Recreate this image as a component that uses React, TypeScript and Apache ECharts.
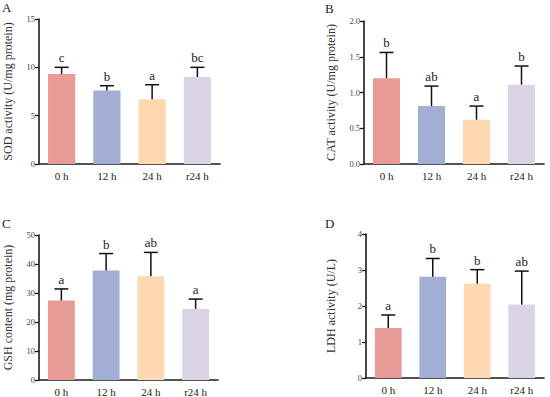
import React, { useEffect, useRef } from "react";
import * as echarts from "echarts";

const categories = ["0 h", "12 h", "24 h", "r24 h"];
const colors = ["#E89A96", "#A2AED3", "#FDD8B1", "#DAD3E6"];

const sodMean = [9.3, 7.6, 6.7, 9.0];
const sodSd = [0.7, 0.5, 1.5, 1.0];
const sodLetters = ["c", "b", "a", "bc"];

const catMean = [1.2, 0.81, 0.62, 1.11];
const catSd = [0.36, 0.28, 0.19, 0.26];
const catLetters = ["b", "ab", "a", "b"];

const gshMean = [27.4, 37.8, 35.8, 24.5];
const gshSd = [4.0, 5.8, 8.2, 3.4];
const gshLetters = ["a", "b", "ab", "a"];

const ldhMean = [1.39, 2.81, 2.62, 2.04];
const ldhSd = [0.36, 0.51, 0.39, 0.93];
const ldhLetters = ["a", "b", "b", "ab"];

const FONT = "Liberation Serif";

const panels = [
  { label: "A", name: "SOD activity (U/mg protein)", mean: sodMean, sd: sodSd, letters: sodLetters, max: 15, interval: 5, dec: 0,
    grid: { left: 39, top: 19, width: 181, height: 145 }, nameGap: 25, lx: 2, ly: 1 },
  { label: "B", name: "CAT activity (U/mg protein)", mean: catMean, sd: catSd, letters: catLetters, max: 2, interval: 0.5, dec: 1,
    grid: { left: 364, top: 21, width: 180, height: 143 }, nameGap: 27, lx: 325, ly: 2 },
  { label: "C", name: "GSH content (mg protein)", mean: gshMean, sd: gshSd, letters: gshLetters, max: 50, interval: 10, dec: 0,
    grid: { left: 39, top: 235, width: 179, height: 145 }, nameGap: 25, lx: 2, ly: 217 },
  { label: "D", name: "LDH activity (U/L)", mean: ldhMean, sd: ldhSd, letters: ldhLetters, max: 4, interval: 1, dec: 0,
    grid: { left: 366, top: 234, width: 178, height: 144 }, nameGap: 29, lx: 325, ly: 217 },
];

export default function App() {
  const ref = useRef<HTMLDivElement>(null);
  useEffect(() => {
    if (!ref.current) return;
    const chart = echarts.init(ref.current, undefined, { renderer: "svg" });
    const grids: any[] = [];
    const xAxes: any[] = [];
    const yAxes: any[] = [];
    const series: any[] = [];
    const graphics: any[] = [];
    panels.forEach((p, i) => {
      grids.push({ ...p.grid, containLabel: false });
      xAxes.push({
        type: "category",
        gridIndex: i,
        data: categories,
        axisLine: { lineStyle: { color: "#1a1a1a", width: 1.6 } },
        axisTick: { alignWithLabel: true, length: 4, lineStyle: { color: "#1a1a1a", width: 1.3 } },
        axisLabel: { fontFamily: FONT, fontSize: 11, color: "#222", margin: 6 },
      });
      yAxes.push({
        type: "value",
        gridIndex: i,
        min: 0,
        max: p.max,
        interval: p.interval,
        name: p.name,
        nameLocation: "middle",
        nameRotate: 90,
        nameGap: p.nameGap,
        nameTextStyle: { fontFamily: FONT, fontSize: 12, color: "#333" },
        splitLine: { show: false },
        axisLine: { show: true, lineStyle: { color: "#1a1a1a", width: 1.6 } },
        axisTick: { show: true, length: 4, lineStyle: { color: "#1a1a1a", width: 1.3 } },
        axisLabel: {
          fontFamily: FONT, fontSize: 8.5, color: "#444", margin: 4,
          formatter: (v: number) => v.toFixed(p.dec),
        },
      });
      series.push({
        type: "bar",
        xAxisIndex: i,
        yAxisIndex: i,
        barWidth: "60%",
        data: p.mean.map((v, k) => ({ value: v, itemStyle: { color: colors[k] } })),
        z: 2,
      });
      series.push({
        type: "custom",
        xAxisIndex: i,
        yAxisIndex: i,
        z: 3,
        data: p.mean.map((v, k) => [k, v, v + p.sd[k], p.letters[k]]),
        renderItem: (params: any, api: any) => {
          const k = api.value(0);
          const base = api.coord([k, api.value(1)]);
          const top = api.coord([k, api.value(2)]);
          const letter = p.letters[params.dataIndex];
          const half = 7;
          return {
            type: "group",
            children: [
              { type: "line", shape: { x1: base[0], y1: base[1], x2: top[0], y2: top[1] }, style: { stroke: "#111", lineWidth: 1.5 } },
              { type: "line", shape: { x1: top[0] - half, y1: top[1], x2: top[0] + half, y2: top[1] }, style: { stroke: "#111", lineWidth: 1.5 } },
              { type: "text", x: top[0], y: top[1] - 3, style: { text: letter, fontFamily: FONT, fontSize: 13, fill: "#222", textAlign: "center", textVerticalAlign: "bottom" } },
            ],
          };
        },
      });
      graphics.push({ type: "text", left: p.lx, top: p.ly, style: { text: p.label, fontFamily: FONT, fontSize: 13, fill: "#222" } });
    });
    chart.setOption({
      animation: false,
      backgroundColor: "#fff",
      grid: grids,
      xAxis: xAxes,
      yAxis: yAxes,
      series,
      graphic: graphics,
    });
    return () => chart.dispose();
  }, []);
  return <div ref={ref} style={{ width: 550, height: 397, position: "absolute", left: 0, top: 0 }} />;
}
